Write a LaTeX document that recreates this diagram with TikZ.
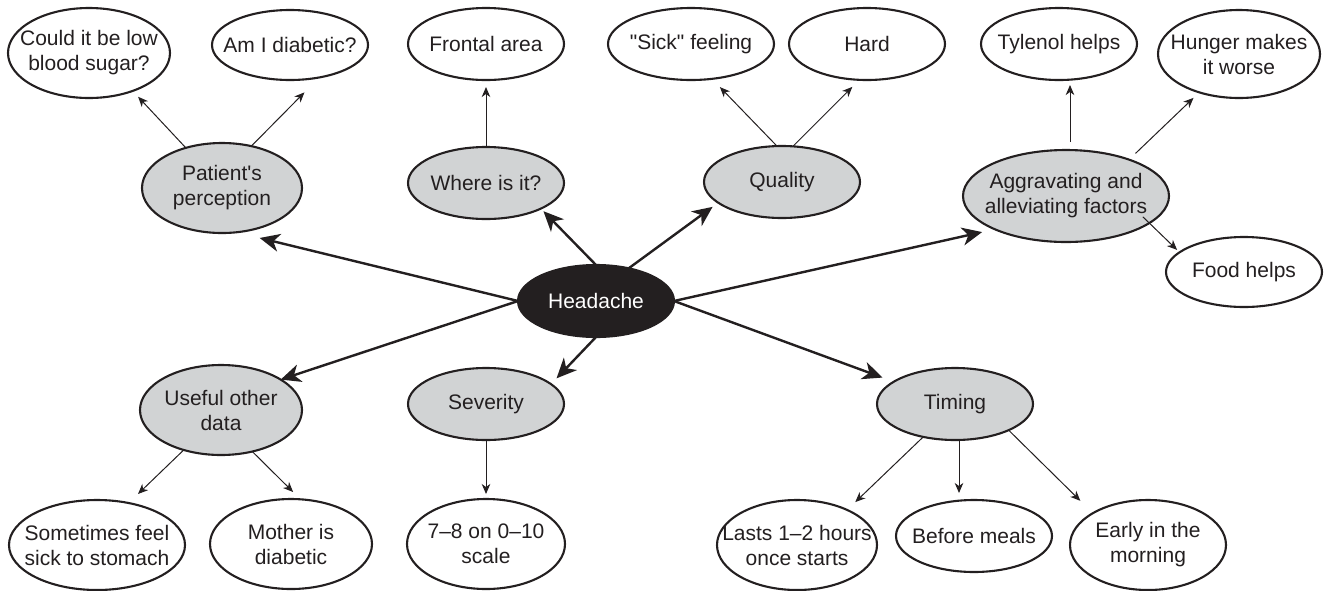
\documentclass[tikz,border=0pt]{standalone}
\usepackage{fontspec}
\setmainfont{Liberation Sans}[Ligatures=TeXOff]
\usetikzlibrary{shapes.geometric,arrows.meta}
\definecolor{bubgray}{HTML}{D1D3D4}
\definecolor{ink}{HTML}{231F20}
\tikzset{
  ell/.style={ellipse, draw=ink, line width=2.1pt, inner sep=0pt, outer sep=0pt},
  sub/.style={ell, fill=bubgray},
  leaf/.style={ell, fill=white},
  txt/.style={align=center, inner sep=0pt, text=ink, font=\fontsize{21}{25}\selectfont},
  wtxt/.style={txt, text=white},
  big/.style={draw=ink, line width=2.4pt, -{Stealth[length=20pt,width=18pt,inset=6pt]}},
  small/.style={draw=ink, line width=1pt, -{Stealth[length=10pt,width=8.5pt,inset=3pt]}}
}
\begin{document}
\begin{tikzpicture}[x=1pt,y=-1pt]
\useasboundingbox (0,0) rectangle (1325,590);
% centre
\node[ell, fill=ink, minimum width=156pt, minimum height=72pt, label={[wtxt]center:Headache}] (head) at (596,301) {};
% second level
\node[sub, minimum width=160pt, minimum height=90pt, label={[txt]center:Patient's\\perception}] (pat) at (222,188) {};
\node[sub, minimum width=156pt, minimum height=72pt, label={[txt]center:Where is it?}] (where) at (486,183) {};
\node[sub, minimum width=156pt, minimum height=72pt, label={[txt]center:Quality}] (qual) at (782,182) {};
\node[sub, minimum width=206pt, minimum height=92pt, label={[txt]center:Aggravating and\\alleviating factors}] (agg) at (1066,196) {};
\node[sub, minimum width=162pt, minimum height=90pt, label={[txt]center:Useful other\\data}] (useful) at (221,410) {};
\node[sub, minimum width=156pt, minimum height=72pt, label={[txt]center:Severity}] (sev) at (486,404) {};
\node[sub, minimum width=156pt, minimum height=72pt, label={[txt]center:Timing}] (timing) at (955,404) {};
% leaves
\node[leaf, minimum width=162pt, minimum height=90pt, label={[txt]center:Could it be low\\blood sugar?}] (could) at (89,53) {};
\node[leaf, minimum width=156pt, minimum height=70pt, label={[txt]center:Am I diabetic?}] (ami) at (290,45) {};
\node[leaf, minimum width=156pt, minimum height=72pt, label={[txt]center:Frontal area}] (frontal) at (486,44) {};
\node[leaf, minimum width=166pt, minimum height=72pt, label={[txt]center:"Sick" feeling}] (sick) at (691,44) {};
\node[leaf, minimum width=156pt, minimum height=72pt, label={[txt]center:Hard}] (hard) at (867,44) {};
\node[leaf, minimum width=156pt, minimum height=72pt, label={[txt]center:Tylenol helps}] (tylenol) at (1059,44) {};
\node[leaf, minimum width=162pt, minimum height=88pt, label={[txt]center:Hunger makes\\it worse}] (hunger) at (1239,54) {};
\node[leaf, minimum width=156pt, minimum height=70pt, label={[txt]center:Food helps}] (food) at (1244,272) {};
\node[leaf, minimum width=176pt, minimum height=90pt, label={[txt]center:Sometimes feel\\sick to stomach}] (sometimes) at (97,545) {};
\node[leaf, minimum width=162pt, minimum height=90pt, label={[txt]center:Mother is\\diabetic}] (mother) at (291,544) {};
\node[leaf, minimum width=158pt, minimum height=90pt, label={[txt]center:7–8 on 0–10\\scale}] (scale) at (486,544) {};
\node[leaf, minimum width=160pt, minimum height=90pt, label={[txt]center:Lasts 1–2 hours\\once starts}] (lasts) at (797,545) {};
\node[leaf, minimum width=156pt, minimum height=72pt, label={[txt]center:Before meals}] (before) at (974,536) {};
\node[leaf, minimum width=156pt, minimum height=90pt, label={[txt]center:Early in the\\morning}] (early) at (1148,545) {};
% main connectors
\draw[big, shorten >=24pt] (head.west) -- (pat.-72);
\draw[big] (head.west) -- (useful.27);
\draw[big, shorten >=3.7pt] (head.north) -- (where.-25);
\draw[big, shorten >=7pt] (head.45) -- (qual.198);
\draw[big, shorten >=13pt] (head.east) -- (agg.205);
\draw[big, shorten >=12pt] (head.east) -- (timing.160);
\draw[big, shorten >=8pt] (head.south) -- (sev.17);
% detail connectors
\draw[small, shorten >=8pt] (pat.132) -- (could.-41);
\draw[small, shorten >=21pt] (pat.55) -- (ami.-48);
\draw[small, shorten >=7pt] (where.north) -- (frontal.south);
\draw[small, shorten >=11.5pt] (qual.98) -- (sick.-59);
\draw[small, shorten >=10pt] (qual.73) -- (hard.-102);
\coordinate (aggn) at ([xshift=4pt]agg.north);
\draw[small, shorten <=8pt, shorten >=5pt] (aggn) -- (aggn |- tylenol.south);
\draw[small, shorten <=9pt, shorten >=8pt] (agg.30) -- (hunger.-136);
\draw[small, shorten <=-9pt, shorten >=3.4pt] (agg.-18) -- (food.163);
\draw[small, shorten >=13pt] (useful.-133) -- (sometimes.53);
\draw[small, shorten >=10.4pt] (useful.-53) -- (mother.78);
\draw[small, shorten >=5pt] (sev.south) -- (scale.north);
\coordinate (tims) at ([xshift=4pt]timing.south);
\draw[small, shorten >=11.3pt] (timing.-134) -- (lasts.35);
\draw[small, shorten >=7pt] (tims) -- (tims |- before.north);
\draw[small, shorten >=17.6pt] (timing.-26) -- (early.150);
\end{tikzpicture}
\end{document}
